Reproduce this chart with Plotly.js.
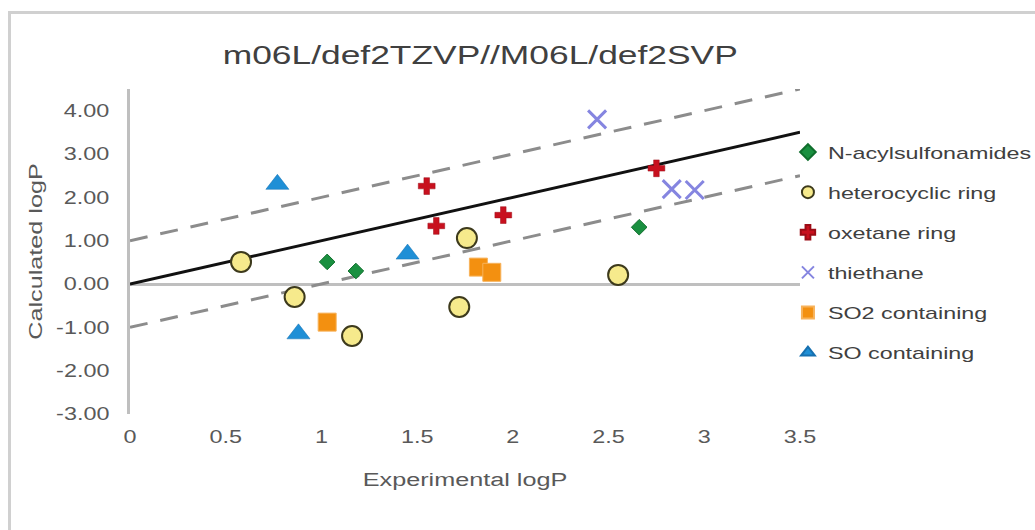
<!DOCTYPE html>
<html>
<head>
<meta charset="utf-8">
<script src="https://cdn.plot.ly/plotly-3.0.1.min.js"></script>
<style>
  html, body { margin: 0; padding: 0; background: #ffffff; }
  #frame { position: absolute; left: 8px; top: 11px; width: 1027px; height: 519px;
           border-left: 3px solid #d0d0d0; border-top: 3px solid #d0d0d0; box-sizing: border-box; }
  #chart { position: absolute; left: 0; top: 0; width: 1035px; height: 530px; }
</style>
</head>
<body>
<div id="frame"></div>
<div id="chart"></div>
<script>
// ---- data ----
const acylX = [1.03, 1.18, 2.66];
const acylY = [0.51, 0.30, 1.31];

const heteroX = [0.58, 0.86, 1.16, 1.76, 1.72, 2.55];
const heteroY = [0.51, -0.30, -1.20, 1.06, -0.53, 0.21];

const oxetaneX = [1.55, 1.60, 1.95, 2.75];
const oxetaneY = [2.26, 1.34, 1.59, 2.67];

const thietX = [2.44, 2.83, 2.95];
const thietY = [3.80, 2.19, 2.17];

const so2X = [1.03, 1.82, 1.89];
const so2Y = [-0.88, 0.39, 0.27];

const soX = [0.77, 1.45, 0.88];
const soY = [2.30, 0.69, -1.15];

const refX = [0, 3.5];
const identityY = [0, 3.5];
const upperY = [1, 4.5];
const lowerY = [-1, 2.5];

const seriesNames = ["N-acylsulfonamides", "heterocyclic ring", "oxetane ring", "thiethane", "SO2 containing", "SO containing"];

const xTickVals = [0, 0.5, 1, 1.5, 2, 2.5, 3, 3.5];
const xTickText = ["0", "0.5", "1", "1.5", "2", "2.5", "3", "3.5"];
const yTickVals = [-3, -2, -1, 0, 1, 2, 3, 4];
const yTickText = ["-3.00", "-2.00", "-1.00", "0.00", "1.00", "2.00", "3.00", "4.00"];

const FONT = "Liberation Sans, Arial, sans-serif";
const TXT = "#595959";

const traces = [
  {x: refX, y: upperY, mode: "lines", line: {color: "#8c8c8c", width: 3, dash: "18px,13px"}, showlegend: false, hoverinfo: "skip"},
  {x: refX, y: lowerY, mode: "lines", line: {color: "#8c8c8c", width: 3, dash: "18px,13px"}, showlegend: false, hoverinfo: "skip"},
  {x: refX, y: identityY, mode: "lines", line: {color: "#111111", width: 3}, showlegend: false, hoverinfo: "skip"},
  {x: acylX, y: acylY, name: seriesNames[0], mode: "markers", legendgroup: "g1",
   marker: {symbol: "diamond", size: 12, color: "#1a9040", line: {color: "#0f6e2c", width: 1}}},
  {x: heteroX, y: heteroY, name: seriesNames[1], mode: "markers", legendgroup: "g2",
   marker: {symbol: "circle", size: 20, color: "#f6ea8c", line: {color: "#3d3a1c", width: 2}}},
  {x: oxetaneX, y: oxetaneY, name: seriesNames[2], mode: "markers", legendgroup: "g3",
   marker: {symbol: "cross", size: 14, color: "#c8101e", line: {color: "#9c0c16", width: 0.5}}},
  {x: thietX, y: thietY, name: seriesNames[3], mode: "markers", legendgroup: "g4",
   marker: {symbol: "x-thin", size: 18, color: "#8585e0", line: {color: "#8585e0", width: 3}}},
  {x: so2X, y: so2Y, name: seriesNames[4], mode: "markers", legendgroup: "g5",
   marker: {symbol: "square", size: 18, color: "#f39010", line: {color: "#f7b25a", width: 1}}},
  {x: soX, y: soY, name: seriesNames[5], mode: "markers", legendgroup: "g6",
   marker: {symbol: "triangle-up", size: 20, color: "#1f8fd6", line: {color: "#1670b0", width: 0.5}}}
];

const layout = {
  width: 1035, height: 530,
  paper_bgcolor: "rgba(0,0,0,0)", plot_bgcolor: "rgba(0,0,0,0)",
  margin: {l: 130, r: 235, t: 89, b: 116},
  font: {family: FONT, color: TXT, size: 16},
  title: {text: "m06L/def2TZVP//M06L/def2SVP", font: {family: FONT, size: 26, color: "#404040"},
          x: 0.464, xref: "container", xanchor: "center", y: 0.897, yref: "container", yanchor: "middle"},
  xaxis: {range: [0, 3.5], tickvals: xTickVals, ticktext: xTickText, showgrid: false, zeroline: false,
          showline: false, ticks: "", ticklabelstandoff: 10, tickfont: {family: FONT, size: 18, color: TXT},
          title: {text: "Experimental logP", font: {family: FONT, size: 18, color: TXT}, standoff: 27}},
  yaxis: {range: [-3, 4.5], tickvals: yTickVals, ticktext: yTickText, showgrid: false,
          zeroline: true, zerolinecolor: "#bfbfbf", zerolinewidth: 3,
          showline: true, linecolor: "#bfbfbf", linewidth: 3, ticks: "", ticklabelstandoff: 14,
          tickfont: {family: FONT, size: 18, color: TXT},
          title: {text: "Calculated logP", font: {family: FONT, size: 18, color: TXT}, standoff: 22}},
  legend: {x: 0.982, xanchor: "left", y: 0.86, yanchor: "top", traceorder: "grouped", tracegroupgap: 15,
           font: {family: FONT, size: 17, color: "#404040"}, bgcolor: "rgba(0,0,0,0)", itemsizing: "constant"},
  showlegend: true
};

// The reference text is drawn horizontally widened; stretch glyphs to match.
function widen(selector, factor) {
  document.querySelectorAll(selector).forEach(function (t) {
    const len = t.getComputedTextLength();
    if (len > 0) {
      t.setAttribute("textLength", (len * factor).toFixed(1));
      t.setAttribute("lengthAdjust", "spacingAndGlyphs");
    }
  });
}

Plotly.newPlot("chart", traces, layout, {displayModeBar: false, staticPlot: true}).then(function () {
  widen("#chart .gtitle", 1.36);
  widen("#chart .xtick text, #chart .ytick text", 1.3);
  widen("#chart .xtitle, #chart .ytitle", 1.4);
  widen("#chart .legendtext", 1.37);
  // let the widened legend text run past the legend box, as in the reference
  document.querySelectorAll("#chart .legend, #chart .legend [clip-path]").forEach(function (el) {
    el.removeAttribute("clip-path");
  });
});
</script>
</body>
</html>
